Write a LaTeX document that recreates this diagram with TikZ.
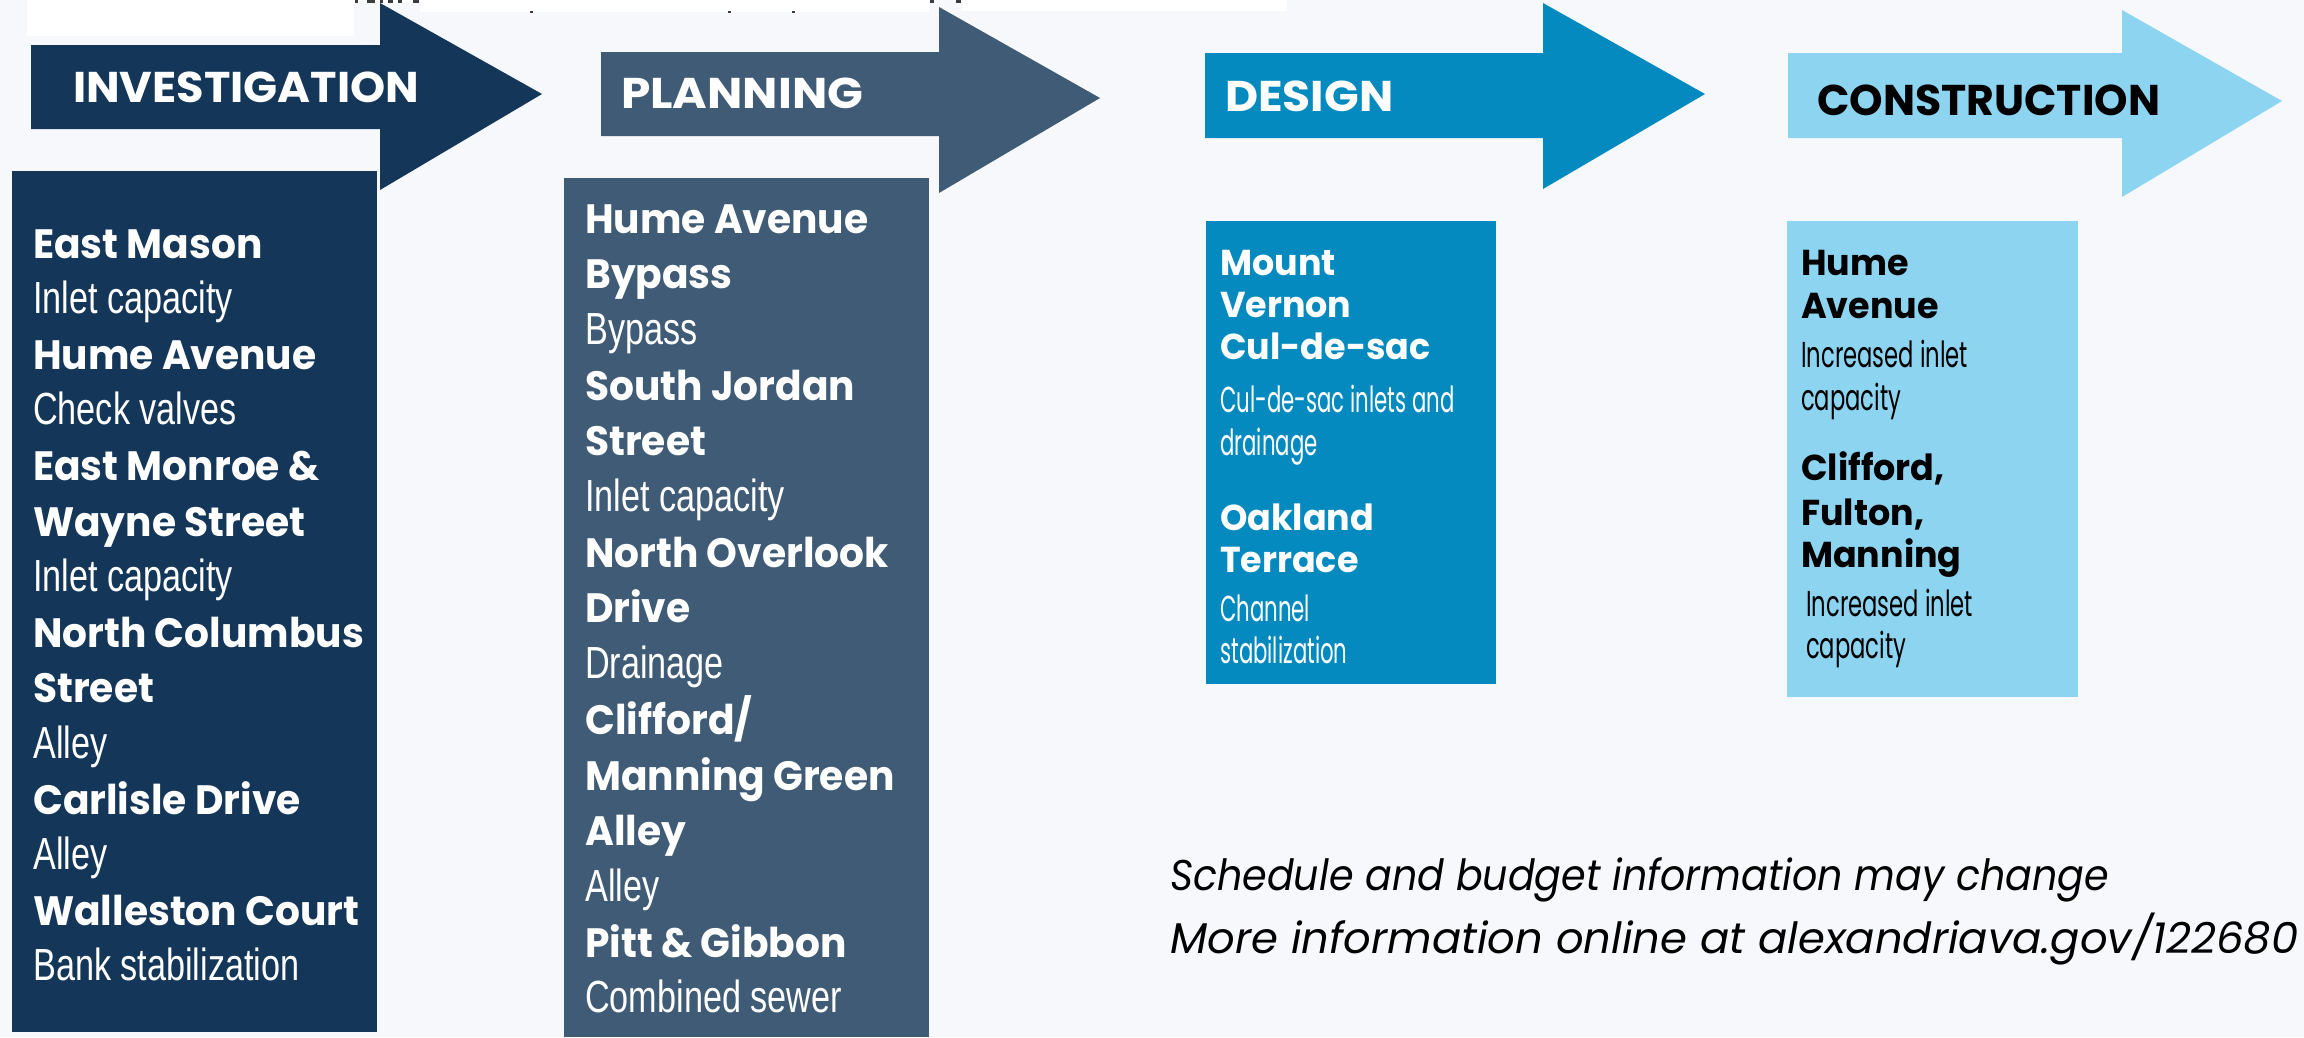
\documentclass[tikz,border=0pt]{standalone}
\usepackage{fontspec}
\usepackage{graphicx}
\setmainfont{Liberation Sans}
\newfontfamily\popf{Poppins}
\newfontfamily\regf{Liberation Sans}[FakeStretch=0.76]
\newfontfamily\bnf{Poppins}[FakeStretch=0.955]
\newfontfamily\bnfb{Poppins}[FakeStretch=0.97]
\newfontfamily\cnf{Poppins}[FakeStretch=0.59]
\newfontfamily\cnfd{Poppins}[FakeStretch=0.63]
\definecolor{bg}{RGB}{246,248,252}
\definecolor{cA}{RGB}{20,55,89}
\definecolor{cB}{RGB}{63,91,117}
\definecolor{cC}{RGB}{5,138,191}
\definecolor{cD}{RGB}{141,212,241}
\definecolor{mk}{RGB}{60,60,60}
\tikzset{
  bA/.style={anchor=base west, inner sep=0pt, text=white, font=\bnf\bfseries\fontsize{41}{46}\selectfont},
  rA/.style={anchor=base west, inner sep=0pt, text=white, font=\regf\fontsize{45}{50}\selectfont},
  bB/.style={anchor=base west, inner sep=0pt, font=\bnfb\bfseries\fontsize{36}{40}\selectfont},
  cBx/.style={anchor=base west, inner sep=0pt, font=\cnf\fontsize{36}{40}\selectfont},
  cDx/.style={anchor=base west, inner sep=0pt, font=\cnfd\fontsize{36}{40}\selectfont},
  head/.style={anchor=base west, inner sep=0pt, font=\popf\bfseries\fontsize{43}{48}\selectfont},
  foot/.style={anchor=base west, inner sep=0pt, text=black, font=\popf\itshape\fontsize{43}{48}\selectfont}
}
\begin{document}
\begin{tikzpicture}[x=1pt,y=-1pt]
\useasboundingbox (0,0) rectangle (2304,1037);
\fill[bg] (0,0) rectangle (2304,1037);
% white remnants at top
\fill[white] (27,0) rectangle (354,36);
\fill[white] (354,0) rectangle (420,3);
\fill[white] (420,0) rectangle (929,12);
\fill[white] (962,0) rectangle (1287,11);
\foreach \a/\b in {355/358,367/375,380/383,388/393,398/402,413/419,930/934,956/961}
  \fill[mk] (\a,0) rectangle (\b,3);
\foreach \a in {530,728,792}
  \fill[mk] (\a,11) rectangle (\a+3,13);
% arrows
\fill[cA] (31,45) -- (380,45) -- (380,3) -- (542,94) -- (380,190) -- (380,129) -- (31,129) -- cycle;
\fill[cB] (601,52) -- (939,52) -- (939,7) -- (1100,98) -- (939,193) -- (939,136) -- (601,136) -- cycle;
\fill[cC] (1205,53) -- (1543,53) -- (1543,3) -- (1705,94) -- (1543,189) -- (1543,138) -- (1205,138) -- cycle;
\fill[cD] (1788,53) -- (2122,53) -- (2122,10) -- (2282,101) -- (2122,197) -- (2122,138) -- (1788,138) -- cycle;
\node[head, text=white] (h1) at (73,102) {\resizebox{346pt}{\height}{INVESTIGATION}};
\node[head, text=white] (h2) at (621,108) {\resizebox{242pt}{\height}{PLANNING}};
\node[head, text=white] (h3) at (1225,111) {\resizebox{168pt}{\height}{DESIGN}};
\node[head, text=black] (h4) at (1817,115) {\resizebox{343pt}{\height}{CONSTRUCTION}};
% boxes
\fill[cA] (12,171) rectangle (377,1032);
\fill[cB] (564,178) rectangle (929,1037);
\fill[cC] (1206,221) rectangle (1496,684);
\fill[cD] (1787,221) rectangle (2078,697);
% box 1 text
\node[bA] (a1)  at (33,258.0) {East Mason};
\node[rA] (a2)  at (33,313.6) {Inlet capacity};
\node[bA] (a3)  at (33,369.2) {Hume Avenue};
\node[rA] (a4)  at (33,424.8) {Check valves};
\node[bA] (a5)  at (33,480.4) {East Monroe \&};
\node[bA] (a6)  at (33,536.0) {Wayne Street};
\node[rA] (a7)  at (33,591.6) {Inlet capacity};
\node[bA] (a8)  at (33,647.2) {North Columbus};
\node[bA] (a9)  at (33,702.8) {Street};
\node[rA] (a10) at (33,758.4) {Alley};
\node[bA] (a11) at (33,814.0) {Carlisle Drive};
\node[rA] (a12) at (33,869.6) {Alley};
\node[bA] (a13) at (33,925.2) {Walleston Court};
\node[rA] (a14) at (33,980.8) {Bank stabilization};
% box 2 text
\node[bA] (p1)  at (585,233.0) {Hume Avenue};
\node[bA] (p2)  at (585,288.7) {Bypass};
\node[rA] (p3)  at (585,344.4) {Bypass};
\node[bA] (p4)  at (585,400.1) {South Jordan};
\node[bA] (p5)  at (585,455.8) {Street};
\node[rA] (p6)  at (585,511.5) {Inlet capacity};
\node[bA] (p7)  at (585,567.2) {North Overlook};
\node[bA] (p8)  at (585,622.9) {Drive};
\node[rA] (p9)  at (585,678.6) {Drainage};
\node[bA] (p10) at (585,734.3) {Clifford/};
\node[bA] (p11) at (585,790.0) {Manning Green};
\node[bA] (p12) at (585,845.7) {Alley};
\node[rA] (p13) at (585,901.4) {Alley};
\node[bA] (p14) at (585,957.1) {Pitt \& Gibbon};
\node[rA] (p15) at (585,1012.8) {Combined sewer};
% box 3 text
\node[bB, text=white] (d1) at (1220,275) {Mount};
\node[bB, text=white] (d2) at (1220,317) {Vernon};
\node[bB, text=white] (d3) at (1220,359) {Cul-de-sac};
\node[cBx, text=white] (d4) at (1220,412) {Cul-de-sac inlets and};
\node[cBx, text=white] (d5) at (1220,455) {drainage};
\node[bB, text=white] (d6) at (1220,530) {Oakland};
\node[bB, text=white] (d7) at (1220,572) {Terrace};
\node[cBx, text=white] (d8) at (1220,621) {Channel};
\node[cBx, text=white] (d9) at (1220,663) {stabilization};
% box 4 text
\node[bB, text=black] (c1) at (1801,275) {Hume};
\node[bB, text=black] (c2) at (1801,318) {Avenue};
\node[cDx, text=black] (c3) at (1801,367) {Increased inlet};
\node[cDx, text=black] (c4) at (1801,410) {capacity};
\node[bB, text=black] (c5) at (1801,480) {Clifford,};
\node[bB, text=black] (c6) at (1801,525) {Fulton,};
\node[bB, text=black] (c7) at (1801,567) {Manning};
\node[cDx, text=black] (c8) at (1806,616) {Increased inlet};
\node[cDx, text=black] (c9) at (1806,658) {capacity};
% footer
\node[foot] (f1) at (1170,890) {\resizebox{939pt}{\height}{Schedule and budget information may change}};
\node[foot] (f2) at (1170,953) {\resizebox{1128pt}{\height}{More information online at alexandriava.gov/122680}};
\end{tikzpicture}
\end{document}
